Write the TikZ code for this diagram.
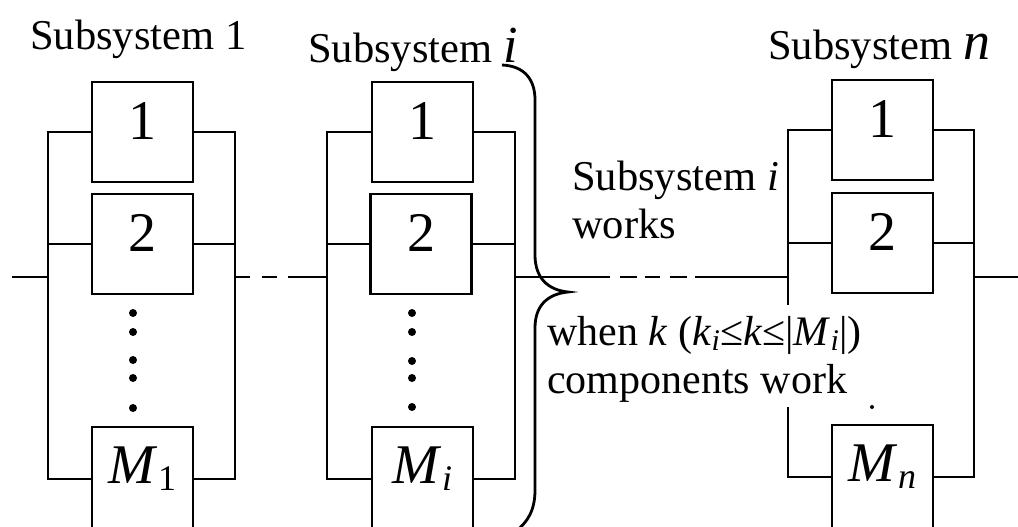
\documentclass[tikz,border=0pt]{standalone}
\usepackage{fontspec}
\setmainfont{Liberation Serif}
\newcommand{\sbs}[1]{\raisebox{-7pt}{\fontsize{36}{36}\selectfont #1}}
\newcommand{\tsb}[1]{\raisebox{-5pt}{\fontsize{30}{30}\selectfont #1}}
\begin{document}
\begin{tikzpicture}[x=1pt,y=-1pt,
  comp/.style={draw, line width=2.8pt, minimum width=101pt, minimum height=100pt, inner sep=0pt,
    font=\fontsize{56}{56}\selectfont, text depth=22pt},
  compm/.style={comp, minimum height=104pt, text depth=28pt},
  wire/.style={line width=2.8pt},
  ttl/.style={anchor=base west, inner sep=0pt, font=\fontsize{42.5}{48}\selectfont},
  dotc/.style={circle, fill, inner sep=0pt, minimum size=8pt},
  brace/.style={line width=2.8pt}
]
\useasboundingbox (0,0) rectangle (1018,527);
\fill[white] (0,0) rectangle (1018,527);
\clip (0,0) rectangle (1018,527);

% ---------- Subsystem 1 ----------
\node[comp] (a1) at (142.5,132) {1};
\node[comp] (a2) at (142.5,244) {2};
\node[compm] (am) at (142.5,479) {\textit{M}\sbs{1}};
\coordinate (aL) at (48,277);
\coordinate (aR) at (235,277);
\draw[wire] (a1.west) -- (a1.west -| aL) -- (am.west -| aL) -- (am.west);
\draw[wire] (a2.west) -- (a2.west -| aL);
\draw[wire] (a1.east) -- (a1.east -| aR) -- (am.east -| aR) -- (am.east);
\draw[wire] (a2.east) -- (a2.east -| aR);
\foreach \yy [count=\k] in {313,332,360,378,408} \node[dotc] (ad\k) at (133,\yy) {};

% ---------- Subsystem i ----------
\node[comp] (b1) at (422.5,132) {1};
\node[comp] (b2) at (421,244) {2};
\node[compm] (bm) at (422.5,479) {\textit{M}\sbs{\textit{i}}};
\coordinate (bL) at (327,277);
\coordinate (bR) at (515,277);
\draw[wire] (b1.west) -- (b1.west -| bL) -- (bm.west -| bL) -- (bm.west);
\draw[wire] (b2.west) -- (b2.west -| bL);
\draw[wire] (b1.east) -- (b1.east -| bR) -- (bm.east -| bR) -- (bm.east);
\draw[wire] (b2.east) -- (b2.east -| bR);
\foreach \yy [count=\k] in {313,332,361,378,407} \node[dotc] (bd\k) at (412,\yy) {};

% ---------- Subsystem n ----------
\node[comp] (c1) at (882.5,130) {1};
\node[comp] (c2) at (882.5,243) {2};
\node[compm] (cm) at (882.5,477) {\textit{M}\sbs{\textit{n}}};
\coordinate (cL) at (788,277);
\coordinate (cLa) at (788,305);
\coordinate (cLb) at (788,407);
\coordinate (cR) at (974,277);
\draw[wire] (c1.west) -- (c1.west -| cL) -- (cLa);
\draw[wire] (cLb) -- (cm.west -| cLb) -- (cm.west);
\draw[wire] (c2.west) -- (c2.west -| cL);
\draw[wire] (c1.east) -- (c1.east -| cR) -- (cm.east -| cR) -- (cm.east);
\draw[wire] (c2.east) -- (c2.east -| cR);
\node[circle, fill, inner sep=0pt, minimum size=4pt] (cd) at (872,407) {};

% ---------- series line ----------
\coordinate (in) at (12,277);
\coordinate (e1) at (250,277);
\coordinate (e2) at (262,277);
\coordinate (f1) at (610,277);
\coordinate (f2) at (620,277);
\coordinate (out) at (1018,277);
\draw[wire] (in) -- (aL);
\draw[wire] (aR) -- (e1);
\draw[wire, dash pattern=on 15pt off 11pt on 60pt] (e2) -- (bL);
\draw[wire] (bR) -- (f1);
\draw[wire, dash pattern=on 17pt off 8pt on 15pt off 10pt on 17pt off 8pt on 120pt] (f2) -- (cL);
\draw[wire] (cR) -- (out);

% ---------- brace ----------
\draw[brace] (502,65) .. controls (525,66) and (535,80) .. (535,100) -- (535,255)
  .. controls (535,278) and (548,290) .. (568,292)
  .. controls (548,294) and (535,305) .. (535,328) -- (535,490)
  .. controls (535,510) and (528,522) .. (515,532);

% ---------- texts ----------
\node[ttl] (t1) at (30,50) {Subsystem 1};
\node[ttl] (ti) at (308,63) {Subsystem {\fontsize{52}{52}\selectfont\textit{i}}};
\node[ttl] (tn) at (768,60) {Subsystem {\fontsize{54}{54}\selectfont\textit{n}}};
\node[ttl] (w1) at (572,190) {Subsystem \textit{i}};
\node[ttl] (w2) at (572,238) {works};
\node[ttl, align=left, font=\fontsize{42}{48}\selectfont] (kk) at (547,393)
  {when \textit{k} (\textit{k}\tsb{\textit{i}}≤\textit{k}≤|\textit{M}\tsb{\textit{i}}|)\\components work};
\end{tikzpicture}
\end{document}
